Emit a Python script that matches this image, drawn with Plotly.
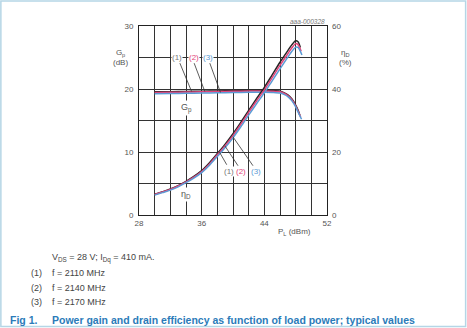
import plotly.graph_objects as go

# ---------------- data ----------------
x_gp1 = [30, 32, 34, 36, 38, 40, 42, 44, 45, 46, 46.5, 47, 47.5, 48, 48.3, 48.55]
gp1 = [19.55, 19.58, 19.62, 19.66, 19.7, 19.74, 19.78, 19.8, 19.76, 19.65, 19.42, 19.08, 18.45, 17.45, 16.65, 15.8]
x_gp2 = [30, 32, 34, 36, 38, 40, 42, 44, 45, 46, 46.5, 47, 47.5, 48, 48.3, 48.65]
gp2 = [19.45, 19.48, 19.52, 19.56, 19.6, 19.64, 19.68, 19.7, 19.66, 19.55, 19.32, 18.97, 18.32, 17.3, 16.5, 15.5]
x_gp3 = [30, 32, 34, 36, 38, 40, 42, 44, 45, 46, 46.5, 47, 47.5, 48, 48.3, 48.75]
gp3 = [19.25, 19.28, 19.32, 19.36, 19.4, 19.44, 19.48, 19.5, 19.46, 19.36, 19.15, 18.8, 18.15, 17.15, 16.35, 15.2]

x_eta1 = [30, 31, 32, 33, 34, 35, 36, 37, 38, 39, 40, 41, 42, 43, 44, 45, 46, 47, 47.5, 48, 48.3, 48.6]
eta1 = [6.6, 7.4, 8.25, 9.35, 10.7, 12.25, 14.1, 16.6, 19.5, 22.5, 25.8, 29.4, 33.2, 36.9, 40.5, 44.5, 48.5, 52.2, 54.0, 55.3, 55.0, 53.2]
x_eta2 = [30, 31, 32, 33, 34, 35, 36, 37, 38, 39, 40, 41, 42, 43, 44, 45, 46, 47, 47.5, 48, 48.3, 48.7]
eta2 = [6.5, 7.3, 8.1, 9.2, 10.5, 12.0, 13.8, 16.2, 19.1, 22.0, 25.2, 28.8, 32.6, 36.2, 39.7, 43.6, 47.5, 51.2, 53.0, 54.4, 54.1, 52.0]
x_eta3 = [30, 31, 32, 33, 34, 35, 36, 37, 38, 39, 40, 41, 42, 43, 44, 45, 46, 47, 47.5, 48, 48.3, 48.8]
eta3 = [6.3, 7.1, 7.9, 8.95, 10.25, 11.7, 13.45, 15.8, 18.6, 21.4, 24.5, 28.0, 31.7, 35.3, 38.8, 42.6, 46.4, 50.1, 51.9, 53.3, 53.2, 50.8]

x_ticks = [28, 30, 32, 34, 36, 38, 40, 42, 44, 46, 48, 50, 52]
x_ticktext = ["28", "", "", "", "36", "", "", "", "44", "", "", "", "52"]
y_ticks = [0, 5, 10, 15, 20, 25, 30]
y_ticktext = ["0", "", "10", "", "20", "", "30"]
y2_ticks = [0, 20, 40, 60]

series_labels = ["(1)", "(2)", "(3)"]
freq_labels = ["f = 2110 MHz", "f = 2140 MHz", "f = 2170 MHz"]
colors = ["#262626", "#e2457a", "#5b9bd5"]

# ---------------- figure ----------------
W, H = 467, 328
L, R, T, B = 139, 327.5, 25.7, 215.5


def px(xp):
    return (xp - L) / (R - L)


def py(yp):
    return (B - yp) / (B - T)


fig = go.Figure()
for xs, ys, c in zip([x_gp1, x_gp2, x_gp3], [gp1, gp2, gp3], colors):
    fig.add_trace(go.Scatter(x=xs, y=ys, mode="lines", line=dict(color=c, width=1.5, shape="spline", smoothing=0.8),
                             showlegend=False, hoverinfo="skip"))
for xs, ys, c in zip([x_eta1, x_eta2, x_eta3], [eta1, eta2, eta3], colors):
    fig.add_trace(go.Scatter(x=xs, y=ys, mode="lines", line=dict(color=c, width=1.5, shape="spline", smoothing=0.8),
                             yaxis="y2", showlegend=False, hoverinfo="skip"))

font = "Arial, Liberation Sans, sans-serif"
tickfont = dict(family=font, size=8, color="#555555")
fig.update_layout(
    width=W, height=H,
    margin=dict(l=L, r=W - R, t=T, b=H - B),
    paper_bgcolor="white", plot_bgcolor="white",
    font=dict(family=font, size=8, color="#555555"),
    xaxis=dict(range=[28, 52], tickmode="array", tickvals=x_ticks, ticktext=x_ticktext,
               showgrid=True, gridcolor="#333333", gridwidth=1, showline=True, linecolor="#222222",
               linewidth=1, mirror=True, ticks="", tickfont=tickfont, zeroline=False, fixedrange=True),
    yaxis=dict(range=[0, 30], tickmode="array", tickvals=y_ticks, ticktext=y_ticktext,
               showgrid=True, gridcolor="#333333", gridwidth=1, showline=True, linecolor="#222222",
               linewidth=1, mirror=True, ticks="", tickfont=tickfont, zeroline=False,
               ticklabelstandoff=3),
    yaxis2=dict(range=[0, 60], overlaying="y", side="right", tickmode="array", tickvals=y2_ticks,
                showgrid=False, ticks="", tickfont=tickfont, zeroline=False, showline=False,
                ticklabelstandoff=4),
)

ann = []
shapes = []
line_c = "#333333"


def A(**kw):
    kw.setdefault("xanchor", "center")
    kw.setdefault("yanchor", "middle")
    kw.setdefault("showarrow", False)
    ann.append(kw)


# upper labels (1)(2)(3) for Gp
up_x = [32.87, 34.96, 36.87]
up_leader = [(33.22, 24.1, 34.71, 19.62), (35.04, 24.1, 36.40, 19.61), (37.04, 24.1, 38.40, 19.46)]
for (a, b, c2, d) in up_leader:
    shapes.append(dict(type="line", x0=a, y0=b, x1=c2, y1=d, xref="x", yref="y",
                       line=dict(color=line_c, width=0.8)))
for lab, xx, c in zip(series_labels, up_x, ["#777777", colors[1], colors[2]]):
    A(x=xx, y=24.94, xref="x", yref="y", text=lab,
      font=dict(size=8, color=c, family=font), bgcolor="white", borderpad=0)

# lower labels (1)(2)(3) for eta
lo_x = [39.46, 41.08, 42.90]
lo_leader = [(39.2, 7.98, 38.22, 10.1), (40.64, 7.82, 38.95, 11.0), (42.55, 7.82, 40.0, 12.4)]
for (a, b, c2, d) in lo_leader:
    shapes.append(dict(type="line", x0=a, y0=b, x1=c2, y1=d, xref="x", yref="y",
                       line=dict(color=line_c, width=0.8)))
for lab, xx, c in zip(series_labels, lo_x, ["#777777", colors[1], colors[2]]):
    A(x=xx, y=6.83, xref="x", yref="y", text=lab,
      font=dict(size=8, color=c, family=font), bgcolor="white", borderpad=0)

A(x=34.0, y=16.94, xref="x", yref="y", text="G<sub>p</sub>",
  font=dict(size=9, color="#555555", family=font), bgcolor="white", borderpad=1)
A(x=34.0, y=3.24, xref="x", yref="y", text="η<sub>D</sub>",
  font=dict(size=9, color="#555555", family=font), bgcolor="white", borderpad=1)

# axis titles
A(x=px(120.7), y=py(57.5), xref="paper", yref="paper", text="G<sub>p</sub><br>(dB)",
  font=dict(size=8, color="#555555", family=font), align="center")
A(x=px(346), y=py(57.5), xref="paper", yref="paper", text="η<sub>D</sub><br>(%)",
  font=dict(size=8, color="#555555", family=font), align="center")
A(x=px(295), y=py(232.7), xref="paper", yref="paper", text="P<sub>L</sub> (dBm)",
  font=dict(size=8, color="#555555", family=font))
A(x=px(327), y=py(21), xref="paper", yref="paper", text="<i>aaa-000328</i>", xanchor="right",
  font=dict(size=6.5, color="#777777", family=font))

# footer
A(x=px(49.5), y=py(258.3), xref="paper", yref="paper", xanchor="left",
  text="V<sub>DS</sub> = 28 V; I<sub>Dq</sub> = 410 mA.",
  font=dict(size=9, color="#444444", family=font))
for i, (lab, fl) in enumerate(zip(series_labels, freq_labels)):
    yy = [273.3, 288.7, 303.3][i]
    A(x=px(29), y=py(yy), xref="paper", yref="paper", xanchor="left", text=lab,
      font=dict(size=9, color="#444444", family=font))
    A(x=px(49.5), y=py(yy), xref="paper", yref="paper", xanchor="left", text=fl,
      font=dict(size=9, color="#444444", family=font))
A(x=px(8), y=py(320.5), xref="paper", yref="paper", xanchor="left", text="<b>Fig 1.</b>",
  font=dict(size=10.5, color="#2b7bb9", family=font))
A(x=px(49.5), y=py(320.5), xref="paper", yref="paper", xanchor="left",
  text="<b>Power gain and drain efficiency as function of load power; typical values</b>",
  font=dict(size=10.5, color="#2b7bb9", family=font))

# outer frame
shapes.append(dict(type="rect", xref="paper", yref="paper", x0=px(0.5), x1=px(466.5), y0=py(327.5), y1=py(0.5),
                   line=dict(color="#b5d6e6", width=1.5), layer="below"))

fig.update_layout(annotations=ann, shapes=shapes)
fig.write_html("out.html")
